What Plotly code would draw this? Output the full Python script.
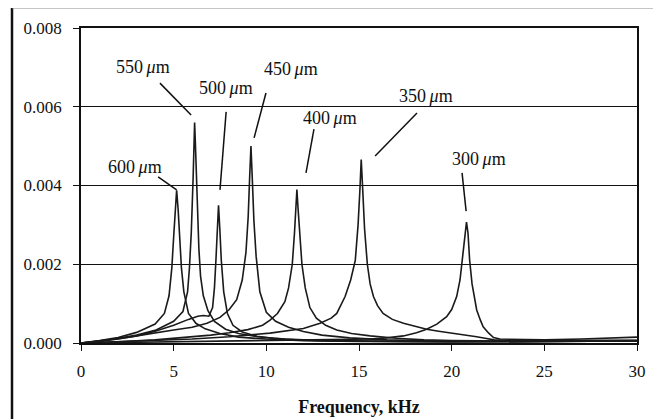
import plotly.graph_objects as go

# ---- data ----
f600 = [0, 1, 2, 3, 4, 4.5, 4.75, 4.9, 5.0, 5.08, 5.16, 5.24, 5.32, 5.42, 5.55, 5.8, 6.2, 6.7, 7.5, 8.5, 10, 12, 15, 20, 25, 30]
v600 = [0, 0.00006, 0.00014, 0.00027, 0.00048, 0.00075, 0.0012, 0.0019, 0.0027, 0.0034, 0.00388, 0.0034, 0.0027, 0.0019, 0.0013, 0.00075, 0.0005, 0.00036, 0.00024, 0.00015, 0.0001, 0.00006, 0.00004, 0.00003, 0.00004, 0.00005]

f550 = [0, 1, 2, 3, 4, 5, 5.5, 5.75, 5.85, 5.95, 6.05, 6.1, 6.13, 6.17, 6.22, 6.28, 6.36, 6.45, 6.6, 6.85, 7.2, 7.8, 8.5, 9.5, 11, 13, 16, 20, 25, 30]
v550 = [0, 0.00005, 0.00012, 0.0002, 0.00032, 0.00055, 0.0008, 0.0013, 0.0019, 0.0028, 0.0042, 0.0051, 0.0056, 0.0051, 0.0043, 0.0034, 0.0024, 0.0017, 0.0012, 0.00082, 0.00055, 0.00035, 0.00024, 0.00016, 0.0001, 0.00006, 0.00004, 0.00003, 0.00004, 0.00005]

f500 = [0, 1, 2, 3, 4, 5, 5.8, 6.3, 6.6, 6.9, 7.1, 7.2, 7.28, 7.35, 7.42, 7.49, 7.57, 7.7, 7.9, 8.2, 8.7, 9.5, 10.5, 12, 14, 17, 20, 25, 30]
v500 = [0, 0.00004, 0.0001, 0.00018, 0.0003, 0.00045, 0.0006, 0.00068, 0.0007, 0.00068, 0.0009, 0.0014, 0.0021, 0.0029, 0.0035, 0.0029, 0.0021, 0.0013, 0.00075, 0.00045, 0.00028, 0.00017, 0.00011, 0.00007, 0.00005, 0.00004, 0.00003, 0.00004, 0.00005]

f450 = [0, 1, 2, 3, 4, 5, 6, 6.8, 7.5, 8.0, 8.4, 8.7, 8.9, 9.02, 9.1, 9.17, 9.24, 9.33, 9.45, 9.65, 10.0, 10.5, 11.2, 12, 13, 14.5, 16.5, 19, 22, 26, 30]
v450 = [0, 0.00005, 0.00011, 0.00018, 0.00026, 0.00033, 0.0004, 0.0005, 0.00065, 0.00085, 0.0011, 0.0016, 0.0023, 0.0032, 0.0042, 0.005, 0.0042, 0.0031, 0.0022, 0.0013, 0.00078, 0.00055, 0.0004, 0.00029, 0.0002, 0.00013, 0.00008, 0.00005, 0.00004, 0.00004, 0.00005]

f400 = [0, 2, 4, 6, 7, 8, 9, 9.8, 10.2, 10.6, 11.0, 11.2, 11.4, 11.52, 11.6, 11.65, 11.7, 11.8, 11.92, 12.1, 12.35, 12.7, 13.2, 13.8, 14.6, 15.6, 17, 18.5, 20, 23, 26, 30]
v400 = [0, 0.00003, 0.00008, 0.00015, 0.0002, 0.00026, 0.00034, 0.00045, 0.00058, 0.00075, 0.00105, 0.0014, 0.002, 0.0028, 0.0035, 0.0039, 0.0035, 0.0027, 0.002, 0.0014, 0.0009, 0.00063, 0.00045, 0.00033, 0.00024, 0.00018, 0.00012, 0.00008, 0.00006, 0.00005, 0.00005, 0.00006]

f350 = [0, 2, 4, 6, 8, 10.2, 12, 12.9, 13.5, 13.8, 14.25, 14.55, 14.8, 14.95, 15.05, 15.12, 15.2, 15.3, 15.45, 15.6, 15.78, 16.0, 16.3, 16.8, 17.4, 18.0, 18.65, 19.3, 20.1, 20.8, 21.35, 21.8, 22.3, 23, 26, 30]
v350 = [0, 0.00003, 0.00006, 0.0001, 0.00016, 0.00025, 0.00037, 0.0005, 0.00063, 0.00075, 0.00118, 0.0016, 0.0021, 0.003, 0.0039, 0.00466, 0.0039, 0.0029, 0.002, 0.0015, 0.00118, 0.00095, 0.00075, 0.0006, 0.0005, 0.00042, 0.00035, 0.0003, 0.00025, 0.0002, 0.00016, 0.00012, 0.00008, 0.00006, 0.00006, 0.00007]

f300 = [0, 3, 6, 9, 12, 14, 15.6, 16.5, 17.4, 18.1, 18.65, 19.2, 19.73, 20.0, 20.27, 20.45, 20.6, 20.72, 20.8, 20.88, 20.97, 21.1, 21.35, 21.55, 21.7, 22.0, 22.26, 22.6, 23.5, 25, 27, 28.5, 30]
v300 = [0, 0.00002, 0.00004, 0.00006, 0.00008, 0.00009, 0.0001, 0.00013, 0.00018, 0.00026, 0.00035, 0.00048, 0.00067, 0.00085, 0.00118, 0.0016, 0.0022, 0.0028, 0.00307, 0.0028, 0.0021, 0.0015, 0.00084, 0.00058, 0.00041, 0.00025, 0.00014, 0.0001, 0.00009, 0.00008, 0.0001, 0.00013, 0.00015]

series = [
    ("600", f600, v600), ("550", f550, v550), ("500", f500, v500),
    ("450", f450, v450), ("400", f400, v400), ("350", f350, v350),
    ("300", f300, v300),
]

x_ticks = [0, 5, 10, 15, 20, 25, 30]
y_ticks = [0.0, 0.002, 0.004, 0.006, 0.008]
x_title = "Frequency, kHz"

# label text positions and leader lines (label, text x, text y, line x0, y0, x1, y1)
labels = [
    ("550", 3.32, 0.00701, 4.26, 0.0066, 5.94, 0.00579),
    ("500", 7.82, 0.00648, 7.83, 0.00587, 7.50, 0.00389),
    ("450", 11.31, 0.00696, 9.98, 0.00635, 9.34, 0.00521),
    ("600", 2.94, 0.00447, 4.16, 0.00422, 5.16, 0.00389),
    ("400", 13.46, 0.00571, 12.57, 0.00543, 12.14, 0.00432),
    ("350", 18.59, 0.00627, 18.13, 0.00584, 15.87, 0.00475),
    ("300", 21.48, 0.00467, 20.56, 0.00432, 20.78, 0.00335),
]

FONT = "Liberation Serif"
fig = go.Figure()
for name, f, v in series:
    fig.add_trace(go.Scatter(x=f, y=v, mode="lines", name=name + " µm",
                             line=dict(color="#1a1a1a", width=1.6),
                             showlegend=False, hoverinfo="skip"))

shapes = []
annotations = []
for lab, tx, ty, x0, y0, x1, y1 in labels:
    annotations.append(dict(x=tx, y=ty, xref="x", yref="y", showarrow=False,
                            text=lab + "\u2009<i>μ</i>m",
                            font=dict(family=FONT, size=18, color="#111")))
    shapes.append(dict(type="line", xref="x", yref="y", x0=x0, y0=y0, x1=x1, y1=y1,
                       line=dict(color="#111", width=1.5)))

# outer frame of the figure
L, R, T, B = -0.1241, 1.036, 1.0635, -0.30
shapes.append(dict(type="line", xref="paper", yref="paper", x0=L, x1=L, y0=B, y1=T,
                   line=dict(color="#111", width=2.5)))
shapes.append(dict(type="line", xref="paper", yref="paper", x0=R, x1=R, y0=B, y1=T,
                   line=dict(color="#111", width=2.5)))
shapes.append(dict(type="line", xref="paper", yref="paper", x0=L, x1=R, y0=T, y1=T,
                   line=dict(color="#888", width=1)))

tickfont = dict(family=FONT, size=17, color="#111")
fig.update_layout(
    width=661, height=419,
    margin=dict(l=73, r=32, t=20, b=84),
    paper_bgcolor="white", plot_bgcolor="white",
    font=dict(family=FONT, size=17, color="#111"),
    shapes=shapes, annotations=annotations,
    xaxis=dict(range=[0, 30], tickvals=x_ticks, ticks="outside", ticklen=6,
               tickcolor="#111", tickwidth=1.3, showline=True, linecolor="#111",
               linewidth=1.5, mirror=True, showgrid=False, zeroline=False,
               ticklabelstandoff=6, tickfont=tickfont,
               title=dict(text="<b>" + x_title + "</b>",
                          font=dict(family=FONT, size=18, color="#111"),
                          standoff=20)),
    yaxis=dict(range=[0, 0.008], tickvals=y_ticks, tickformat=".3f", ticks="outside",
               ticklen=6, tickcolor="#111", tickwidth=1.3, showline=True,
               linecolor="#111", linewidth=1.5, mirror=True, showgrid=True,
               gridcolor="#111", gridwidth=1.3, zeroline=False,
               ticklabelstandoff=8, tickfont=tickfont),
)

fig.write_html("out.html")
